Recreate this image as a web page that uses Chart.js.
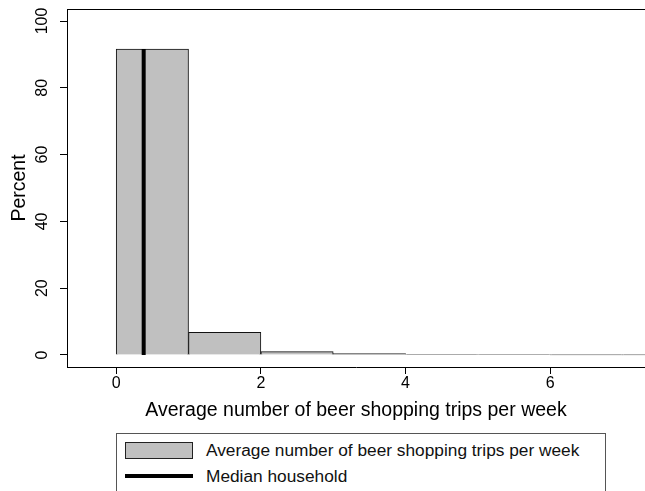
<!DOCTYPE html>
<html><head><meta charset="utf-8">
<script src="https://cdn.jsdelivr.net/npm/chart.js@4/dist/chart.umd.min.js"></script>
<style>
html,body{margin:0;padding:0;background:#fff;}
#wrap{position:relative;width:645px;height:491px;overflow:hidden;background:#fff;}
#c{position:absolute;left:0;top:0;}
#legend{position:absolute;left:116px;top:433px;width:490px;height:70px;border:1px solid #555;box-sizing:border-box;background:#fff;font-family:"Liberation Sans",Arial,sans-serif;font-size:17.3px;color:#111;}
.item{position:absolute;left:8px;height:20px;}
.sw{position:absolute;left:0;width:68px;height:17px;box-sizing:border-box;background:#c0c0c0;border:1px solid #222;}
.ln{position:absolute;left:0;width:68px;height:4px;background:#000;}
.tx{position:absolute;left:81px;white-space:nowrap;line-height:18px;}
</style></head>
<body>
<div id="wrap">
<canvas id="c" width="645" height="491"></canvas>
<div id="legend">
  <div class="item" style="top:8px"><div class="sw" style="top:0"></div><div class="tx" style="top:-1px">Average number of beer shopping trips per week</div></div>
  <div class="item" style="top:33px"><div class="ln" style="top:7px"></div><div class="tx" style="top:0">Median household</div></div>
</div>
</div>
<script>
const binStarts = [0, 1, 2, 3, 4, 5, 6, 7];
const percents = [91.6, 6.8, 1.0, 0.4, 0.12, 0.08, 0.05, 0.03];
const medianTrips = 0.38;
const medianTop = 91.6;
const xTicks = [0, 2, 4, 6];
const yTicks = [0, 20, 40, 60, 80, 100];
const xTitle = 'Average number of beer shopping trips per week';
const yTitle = 'Percent';

const FONT = '"Liberation Sans", Arial, Helvetica, sans-serif';

const barData = binStarts.map((s, i) => ({x: s + 0.5, y: percents[i]}));

const topLine = {
  id: 'topLine',
  afterDraw(chart) {
    const {ctx, chartArea} = chart;
    ctx.save();
    ctx.strokeStyle = '#000';
    ctx.lineWidth = 1;
    ctx.beginPath();
    ctx.moveTo(chartArea.left, chartArea.top + 0.5);
    ctx.lineTo(chartArea.right, chartArea.top + 0.5);
    ctx.stroke();
    ctx.restore();
  }
};

new Chart(document.getElementById('c'), {
  type: 'bar',
  data: {
    datasets: [
      {
        type: 'bar',
        label: xTitle,
        data: barData,
        backgroundColor: '#c0c0c0',
        borderColor: '#111',
        borderWidth: 1,
        barPercentage: 1,
        categoryPercentage: 1,
        order: 2
      },
      {
        type: 'line',
        label: 'Median household',
        data: [{x: medianTrips, y: 0}, {x: medianTrips, y: medianTop}],
        borderColor: '#000',
        borderWidth: 4,
        pointRadius: 0,
        fill: false,
        order: 1
      }
    ]
  },
  options: {
    responsive: false,
    animation: false,
    events: [],
    layout: {padding: {top: 9, bottom: 69, left: 0, right: 0}},
    plugins: {legend: {display: false}, tooltip: {enabled: false}},
    scales: {
      x: {
        type: 'linear',
        min: -0.68,
        max: 7.31,
        offset: false,
        afterBuildTicks: s => { s.ticks = xTicks.map(v => ({value: v})); },
        afterFit: s => { s.height = 55; s.paddingLeft = 0; s.paddingRight = 0; },
        grid: {drawOnChartArea: false, offset: false, tickLength: 7, color: '#000', tickWidth: 1},
        border: {display: true, color: '#000', width: 1},
        ticks: {padding: 0, color: '#000', font: {family: FONT, size: 16}, maxRotation: 0, minRotation: 0},
        title: {display: true, text: xTitle, color: '#000', font: {family: FONT, size: 19.5}, padding: {top: 0, bottom: 0}}
      },
      y: {
        type: 'linear',
        min: -3.6,
        max: 103.6,
        afterBuildTicks: s => { s.ticks = yTicks.map(v => ({value: v})); },
        afterFit: s => { s.width = 67; s.paddingTop = 0; s.paddingBottom = 0; },
        grid: {drawOnChartArea: false, tickLength: 7, color: '#000', tickWidth: 1},
        border: {display: true, color: '#000', width: 1},
        ticks: {padding: 4, color: '#000', font: {family: FONT, size: 16}, minRotation: 90, maxRotation: 90, crossAlign: 'center'},
        title: {display: true, text: yTitle, color: '#000', font: {family: FONT, size: 19.5}, padding: {top: 8, bottom: 0}}
      }
    }
  },
  plugins: [topLine]
});
</script>
</body></html>
